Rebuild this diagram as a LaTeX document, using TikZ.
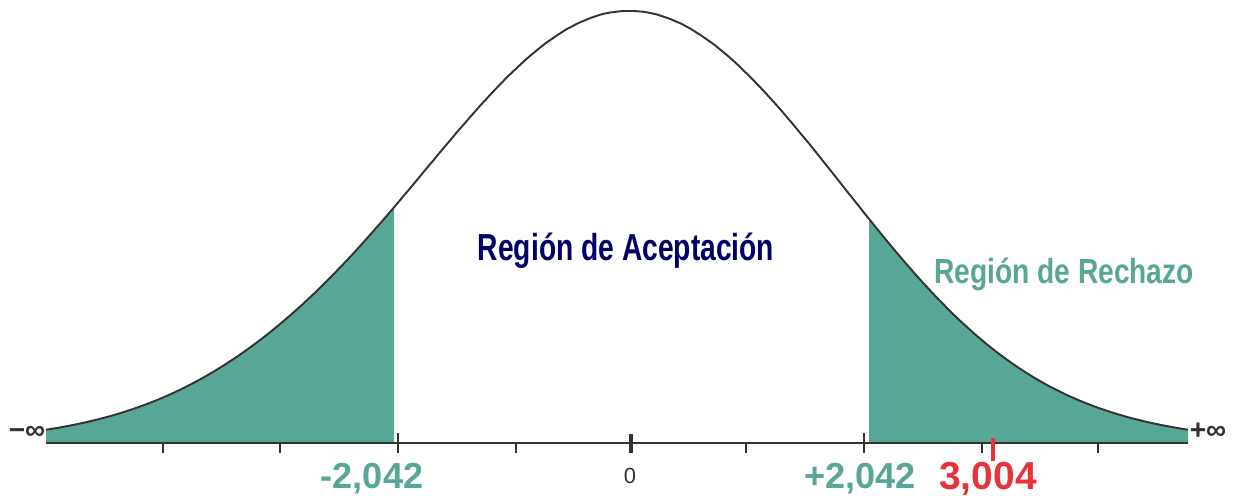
\documentclass[tikz,border=0pt]{standalone}
\usepackage{fontspec}
\setmainfont{Liberation Sans}
\newfontfamily\acepfont[FakeStretch=0.75]{Liberation Sans}
\newfontfamily\rechfont[FakeStretch=0.81]{Liberation Sans}
\usepackage{xcolor}
\usepackage{tikz}
\definecolor{rechazo}{HTML}{58A695}
\definecolor{aceptacion}{HTML}{000066}
\definecolor{estadistico}{HTML}{E8323C}
\definecolor{eje}{HTML}{333333}

\begin{document}
\begin{tikzpicture}[x=0.02cm, y=-0.02cm,
    declare function={cen(\t)=617+12*exp(-((\t-630)/350)^4);
                      dens(\t)=432*exp(-30.5*ln(1+((\t-cen(\t))/212)^2/60));},
    curva/.style={line width=1.1pt, eje},
    marca/.style={line width=0.8pt, eje},
    cifra/.style={font=\bfseries\fontsize{20.6}{20.6}\selectfont, rechazo, anchor=base}]
\useasboundingbox (0,0) rectangle (1237,495);
\fill[rechazo] (46,443) -- plot[domain=46:394, samples=80] (\x, {443-dens(\x)}) -- (394,443) -- cycle;
\fill[rechazo] (869,443) -- plot[domain=869:1188, samples=80] (\x, {443-dens(\x)}) -- (1188,443) -- cycle;
\draw[curva] plot[domain=46:1188, samples=240] (\x, {443-dens(\x)});
\draw[curva] (46,443) -- (1188,443);
\foreach \p in {163,280,516,746,982,1098}
    \draw[marca] (\p,443) -- (\p,453);
\draw[marca] (398,433) -- (398,453);
\draw[marca] (864,433) -- (864,453);
\draw[marca, line width=1.8pt] (631,434) -- (631,453);
\draw[estadistico, line width=2.8pt] (993,438) -- (993,461);
\node[font=\acepfont\bfseries\fontsize{21.4}{21.4}\selectfont, aceptacion, anchor=base] (acep) at (626,260) {Región de Aceptación};
\node[font=\rechfont\bfseries\fontsize{19.8}{19.8}\selectfont, rechazo, anchor=base] (rech) at (1064,283) {Región de Rechazo};
\node[cifra] (izq) at (372,488) {-2,042};
\node[cifra] (der) at (860,488) {+2,042};
\node[cifra, estadistico, inner sep=0pt, font=\bfseries\fontsize{22.2}{22.2}\selectfont] (valor) at (988,489) {3,004};
\node[font=\fontsize{12.5}{12.5}\selectfont, eje, anchor=base] (cero) at (630,483) {0};
\node[font=\bfseries\fontsize{16}{16}\selectfont, eje] (menosinf) at (27,433) {−∞};
\node[font=\bfseries\fontsize{16}{16}\selectfont, eje] (masinf) at (1208,431) {+∞};
\end{tikzpicture}
\end{document}
